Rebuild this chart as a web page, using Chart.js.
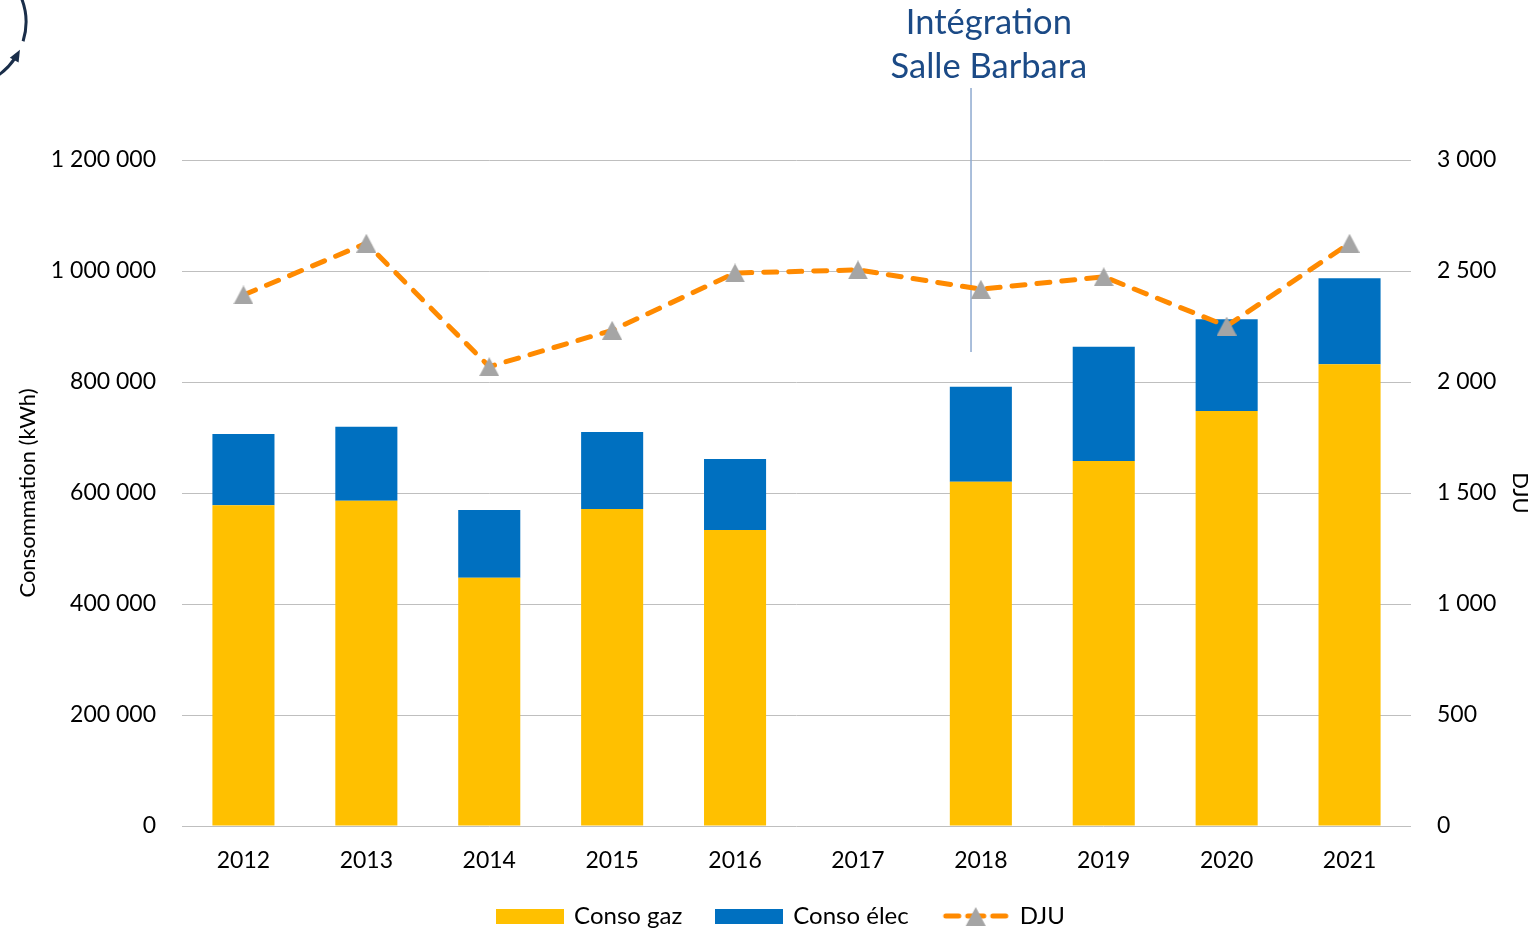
<!DOCTYPE html>
<html>
<head>
<meta charset="utf-8">
<script src="https://cdn.jsdelivr.net/npm/chart.js@4/dist/chart.umd.min.js"></script>
<style>
  html, body { margin: 0; padding: 0; overflow: hidden; background: #fff; }
  #wrap { position: relative; width: 1535px; height: 938px; }
</style>
</head>
<body>
<div id="wrap"><canvas id="c"></canvas></div>
<script>
const years = ['2012','2013','2014','2015','2016','2017','2018','2019','2020','2021'];
const consoGaz  = [577800, 586100, 447400, 571200, 533300, null, 620400, 657700, 747700, 831900];
const consoElec = [128500, 133400, 122000, 138700, 128000, null, 171000, 205900, 165300, 154900];
const dju       = [2392, 2625, 2069, 2233, 2491, 2505, 2418, 2474, 2252, 2625];
const leftTicksMax = 1200000;
const rightTicksMax = 3000;
const annotationLines = ['Intégration', 'Salle Barbara'];
const seriesNames = ['Conso gaz', 'Conso élec', 'DJU'];

const FONT = 'Lato';
const fmt = v => String(Math.round(v)).replace(/\B(?=(\d{3})+(?!\d))/g, ' ');

function makeTriangle() {
  const c = document.createElement('canvas');
  c.width = 20; c.height = 19;
  const g = c.getContext('2d');
  g.fillStyle = '#A5A5A5';
  g.beginPath(); g.moveTo(10, 0); g.lineTo(20, 19); g.lineTo(0, 19); g.closePath(); g.fill();
  return c;
}
const tri = makeTriangle();

function makeBox(color) {
  const c = document.createElement('canvas');
  c.width = 68; c.height = 15;
  const g = c.getContext('2d');
  g.fillStyle = color; g.fillRect(0, 0, 68, 15);
  return c;
}
function makeLineLegend() {
  const c = document.createElement('canvas');
  c.width = 68; c.height = 22;
  const g = c.getContext('2d');
  g.strokeStyle = '#FF8A00'; g.lineWidth = 5; g.lineCap = 'round';
  g.beginPath(); g.moveTo(4, 11); g.lineTo(17, 11); g.stroke();
  g.beginPath(); g.moveTo(26, 11); g.lineTo(42, 11); g.stroke();
  g.beginPath(); g.moveTo(51, 11); g.lineTo(64, 11); g.stroke();
  g.drawImage(tri, 24, 2);
  return c;
}
const legendImgs = [makeBox('#FFC000'), makeBox('#0070C0'), makeLineLegend()];

const overlay = {
  id: 'overlay',
  beforeDatasetsDraw(chart) {
    const x = chart.scales.x.getPixelForValue(5.92);
    const ctx = chart.ctx;
    ctx.save();
    ctx.strokeStyle = '#8EA9CF';
    ctx.lineWidth = 1.5;
    ctx.beginPath(); ctx.moveTo(x, 88); ctx.lineTo(x, 352); ctx.stroke();
    ctx.restore();
  },
  afterDraw(chart) {
    const ctx = chart.ctx;
    const x = chart.scales.x.getPixelForValue(6) + 8;
    ctx.save();
    ctx.fillStyle = '#1B4A86';
    ctx.font = '34.5px ' + FONT;
    ctx.textAlign = 'center';
    ctx.textBaseline = 'middle';
    ctx.fillText(annotationLines[0], x, 23);
    ctx.fillText(annotationLines[1], x, 67);
    ctx.strokeStyle = '#1A2E4A';
    ctx.fillStyle = '#1A2E4A';
    ctx.lineWidth = 3;
    const cx = -39, cy = 22, r = 65;
    ctx.beginPath(); ctx.arc(cx, cy, r, -0.4, 0.30); ctx.stroke();
    ctx.beginPath(); ctx.arc(cx, cy, r, 0.58, 1.02); ctx.stroke();
    const a = 0.50;
    const px = cx + r * Math.cos(a), py = cy + r * Math.sin(a);
    const tx = Math.sin(a), ty = -Math.cos(a);
    const nx = Math.cos(a), ny = Math.sin(a);
    ctx.beginPath();
    ctx.moveTo(px + tx * 4, py + ty * 4);
    ctx.lineTo(px - tx * 8 + nx * 5, py - ty * 8 + ny * 5);
    ctx.lineTo(px - tx * 8 - nx * 5, py - ty * 8 - ny * 5);
    ctx.closePath(); ctx.fill();
    ctx.restore();
  },
  afterLayout(chart) {
    if (chart.legend) { chart.legend.left += 14; chart.legend.right += 14; }
  }
};

new Chart(document.getElementById('c'), {
  type: 'bar',
  data: {
    labels: years,
    datasets: [
      { label: seriesNames[0], data: consoGaz, backgroundColor: '#FFC000', stack: 's', yAxisID: 'y', order: 2,
        barPercentage: 0.505, categoryPercentage: 1 },
      { label: seriesNames[1], data: consoElec, backgroundColor: '#0070C0', stack: 's', yAxisID: 'y', order: 2,
        barPercentage: 0.505, categoryPercentage: 1 },
      { type: 'line', label: seriesNames[2], data: dju, yAxisID: 'y2', order: 0,
        borderColor: '#FF8A00', borderWidth: 5, borderDash: [13, 12], borderCapStyle: 'round',
        pointStyle: tri, pointRadius: 10, pointHoverRadius: 10, backgroundColor: '#A5A5A5',
        tension: 0, fill: false }
    ]
  },
  options: {
    responsive: true,
    maintainAspectRatio: false,
    animation: false,
    layout: { padding: { top: 160, left: 0, right: 0, bottom: 0 } },
    plugins: {
      tooltip: { enabled: false },
      legend: {
        position: 'bottom',
        labels: {
          usePointStyle: true,
          pointStyleWidth: 64,
          padding: 35,
          color: '#000',
          font: { family: FONT, size: 24 },
          generateLabels(chart) {
            return seriesNames.map((n, i) => ({
              text: n, pointStyle: legendImgs[i], fillStyle: 'transparent', strokeStyle: 'transparent',
              lineWidth: 0, hidden: false, datasetIndex: i, fontColor: '#000'
            }));
          }
        }
      }
    },
    scales: {
      x: {
        stacked: true,
        grid: { display: false, drawTicks: false },
        border: { display: false },
        ticks: { color: '#000', font: { family: FONT, size: 23 }, padding: 21, maxRotation: 0 },
        afterFit(s) { s.height = 43; }
      },
      y: {
        stacked: true,
        position: 'left',
        min: 0, max: leftTicksMax,
        grid: { color: '#BFBFBF', lineWidth: 1, drawTicks: false },
        border: { display: false },
        ticks: { stepSize: 200000, color: '#000', font: { family: FONT, size: 23 }, padding: 26, callback: v => fmt(v) },
        title: { display: true, text: 'Consommation (kWh)', color: '#000', font: { family: FONT, size: 22 }, padding: { top: 15, bottom: 0 } },
        afterFit(s) { s.width = 182; }
      },
      y2: {
        position: 'right',
        min: 0, max: rightTicksMax,
        grid: { display: false, drawTicks: false },
        border: { display: false },
        ticks: { stepSize: 500, color: '#000', font: { family: FONT, size: 23 }, padding: 26, callback: v => fmt(v) },
        title: { display: true, text: 'DJU', color: '#000', font: { family: FONT, size: 22 }, padding: { top: 2, bottom: 0 } },
        afterFit(s) { s.width = 124; }
      }
    }
  },
  plugins: [overlay]
});
</script>
</body>
</html>
